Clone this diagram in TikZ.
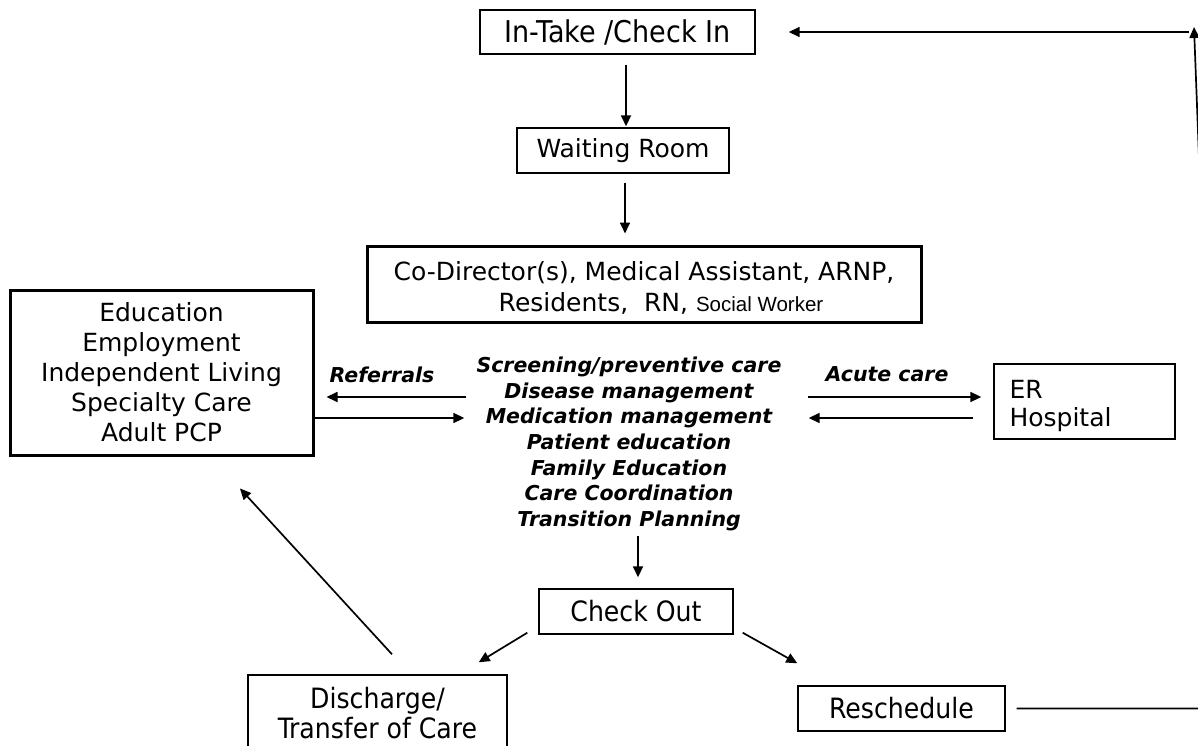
\documentclass[tikz,border=0pt]{standalone}
\usepackage{fontspec}
\setmainfont{DejaVu Sans}
\newfontfamily\narrowfont{DejaVu Sans Condensed}
\newfontfamily\arialfont{Liberation Sans}
\usetikzlibrary{arrows.meta,calc}
\begin{document}
\begin{tikzpicture}[x=1pt,y=-1pt,
  box/.style={draw, line width=1.4pt, inner sep=0pt, align=center},
  thickbox/.style={draw, line width=3pt, inner sep=0pt, align=center},
  arr/.style={line width=1.7pt, -{Triangle[length=11pt,width=10pt]}},
  wide/.style={font=\fontsize{25}{30}\selectfont},
  narrow/.style={font=\narrowfont\fontsize{28}{30}\selectfont},
  emph/.style={font=\bfseries\itshape\fontsize{20.5}{25.6}\selectfont, inner sep=0pt, align=center}
]
\useasboundingbox (0,0) rectangle (1198,746);
\clip (0,0) rectangle (1198,746);

% boxes
\node[box, font=\narrowfont\fontsize{30}{30}\selectfont, minimum width=275pt, minimum height=44pt] (intake) at (617.5,32) {In-Take /Check In};
\node[box, wide, minimum width=212pt, minimum height=45pt] (waiting) at (623,150.5) {Waiting Room};
\node[thickbox, minimum width=554pt, minimum height=76pt] (staff) at (644,284) {};
\node[wide, inner sep=0pt, align=center, font=\fontsize{25}{31}\selectfont] (stafftext) at (644,288)
  {Co-Director(s), Medical Assistant, ARNP,\\
   \hspace*{34pt}Residents,~~RN, {\arialfont\fontsize{20.5}{25}\selectfont Social Worker}};
\node[thickbox, wide, minimum width=303pt, minimum height=165pt] (ext) at (161.5,372.5)
  {Education\\Employment\\Independent Living\\Specialty Care\\Adult PCP};
\node[emph] (services) at (629,444)
  {Screening/preventive care\\Disease management\\Medication management\\Patient education\\Family Education\\Care Coordination\\Transition Planning};
\node[box, minimum width=181pt, minimum height=75pt] (er) at (1084.5,401.5) {};
\node[inner sep=0pt, text width=150pt, align=left, font=\fontsize{25}{28}\selectfont] (ertext) at (1084.5,406) {ER\\Hospital};
\node[box, narrow, minimum width=194pt, minimum height=45pt] (checkout) at (636,611.5) {Check Out};
\node[box, minimum width=259pt, minimum height=85pt] (discharge) at (377.5,717.5) {};
\node[narrow, inner sep=0pt, align=center] (dischargetext) at (377.5,713) {Discharge/\\Transfer of Care};
\node[box, narrow, minimum width=207pt, minimum height=45pt] (resched) at (901.5,708.5) {Reschedule};

% labels
\node[emph] (referrals) at (382,375) {Referrals};
\node[emph] (acute) at (887,374) {Acute care};

% levels of the paired arrows
\coordinate (upper) at (0,397);
\coordinate (lower) at (0,418);
\coordinate (rcorner) at (1220,708.5);
\coordinate (rtop) at (1194,27);
\coordinate (ltop) at (1189,32);

% main flow
\draw[arr] ($(intake.south)+(8.5,10)$) -- ($(waiting.north)+(3,-1)$);
\draw[arr] ($(waiting.south)+(2,9)$) -- ($(staff.north)+(-19,-11)$);
\draw[arr] ($(checkout.north)+(2,-52)$) -- ($(checkout.north)+(2,-11)$);

% referrals
\draw[arr] ($(services.west |- upper)+(-10,0)$) -- ($(ext.east |- upper)+(12,0)$);
\draw[arr] (ext.east |- lower) -- ($(services.west |- lower)+(-12,0)$);

% acute care
\draw[arr] ($(services.east |- upper)+(26,0)$) -- ($(er.west |- upper)+(-12,0)$);
\draw[arr] ($(er.west |- lower)+(-20,0)$) -- ($(services.east |- lower)+(27,0)$);

% check out branches
\draw[arr] ($(checkout.south west)+(-11,-2)$) -- ($(discharge.north east)+(-29,-12)$);
\draw[arr] ($(checkout.south east)+(9,-2)$) -- ($(resched.north west)+(0,-22)$);
\draw[arr] ($(discharge.north)+(14.5,-20)$) -- ($(ext.south)+(78.5,32)$);

% return loop
\draw[arr] ($(resched.east)+(11,0)$) -- (rcorner) -- (rtop);
\draw[arr] (ltop) -- ($(intake.east)+(33,0)$);
\end{tikzpicture}
\end{document}
